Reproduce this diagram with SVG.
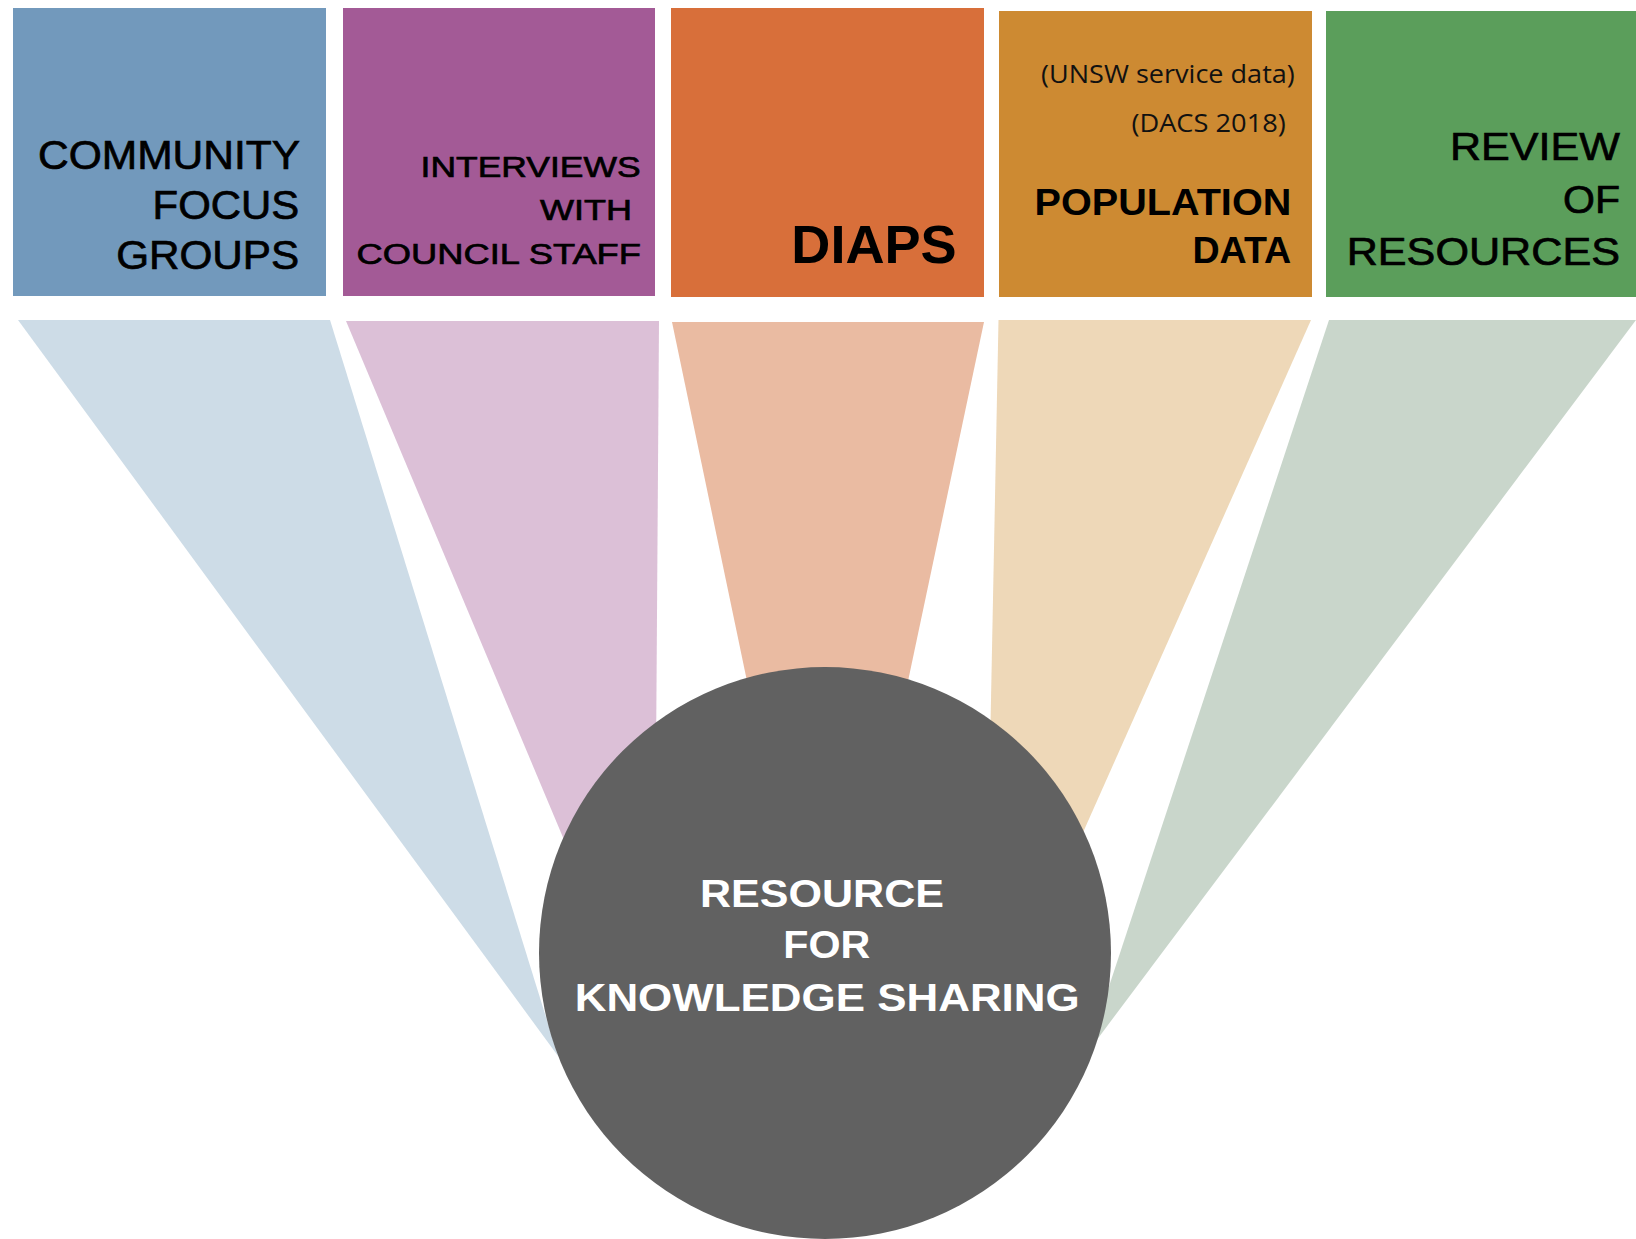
<svg xmlns="http://www.w3.org/2000/svg" width="1636" height="1239" viewBox="0 0 1636 1239">
<style>
.lbl{font-family:"Liberation Sans",Arial,sans-serif;fill:#000}
.reg{font-weight:normal;stroke:#000;stroke-width:0.7}
.bold{font-weight:bold}
.small{font-family:"Open Sans","Noto Sans",sans-serif;font-size:26px;fill:#111}
.ctr{font-family:"Liberation Sans",Arial,sans-serif;font-weight:bold;font-size:39px;fill:#fff}
</style>
<rect width="1636" height="1239" fill="#fff"/>
<g id="connectors">
  <polygon id="w1" points="18,320 330,320 558,1056" fill="#cddce7"/>
  <polygon id="w2" points="346,321 659,321 654,1054" fill="#dcc0d7"/>
  <polygon id="w3" points="672,322 984,322 827,1064" fill="#eabba2"/>
  <polygon id="w4" points="998.5,320 1311,320 984,1055" fill="#eed8b8"/>
  <polygon id="w5" points="1329,320 1636,320 1087,1053" fill="#c9d6cb"/>
</g>
<g id="n1">
  <rect x="13" y="8" width="313" height="288" fill="#7299bc"/>
  <text class="lbl reg" font-size="40" x="38" y="168.5" textLength="262" lengthAdjust="spacingAndGlyphs">COMMUNITY</text>
  <text class="lbl reg" font-size="40" x="152.6" y="218.5" textLength="146.6" lengthAdjust="spacingAndGlyphs">FOCUS</text>
  <text class="lbl reg" font-size="40" x="116.2" y="268.5" textLength="183" lengthAdjust="spacingAndGlyphs">GROUPS</text>
</g>
<g id="n2">
  <rect x="343" y="8" width="312" height="288" fill="#a35a96"/>
  <text class="lbl reg" font-size="30" x="420.6" y="176.5" textLength="220" lengthAdjust="spacingAndGlyphs">INTERVIEWS</text>
  <text class="lbl reg" font-size="30" x="540" y="220" textLength="92" lengthAdjust="spacingAndGlyphs">WITH</text>
  <text class="lbl reg" font-size="30" x="356.5" y="263.5" textLength="284.5" lengthAdjust="spacingAndGlyphs">COUNCIL STAFF</text>
</g>
<g id="n3">
  <rect x="671" y="8" width="313" height="289" fill="#d86f3a"/>
  <text class="lbl bold" font-size="53.5" x="791.3" y="263.3" textLength="165.4" lengthAdjust="spacingAndGlyphs">DIAPS</text>
</g>
<g id="n4">
  <rect x="999" y="11" width="313" height="286" fill="#cd8a32"/>
  <text class="small" x="1041" y="82.7" textLength="253.8" lengthAdjust="spacingAndGlyphs">(UNSW service data)</text>
  <text class="small" x="1131.4" y="131.7" textLength="154.4" lengthAdjust="spacingAndGlyphs">(DACS 2018)</text>
  <text class="lbl bold" font-size="36" x="1034.6" y="215" textLength="256.7" lengthAdjust="spacingAndGlyphs">POPULATION</text>
  <text class="lbl bold" font-size="36" x="1192.4" y="263.3" textLength="98.9" lengthAdjust="spacingAndGlyphs">DATA</text>
</g>
<g id="n5">
  <rect x="1326" y="11" width="310" height="286" fill="#5b9e5b"/>
  <text class="lbl reg" font-size="39.5" x="1450" y="160" textLength="170" lengthAdjust="spacingAndGlyphs">REVIEW</text>
  <text class="lbl reg" font-size="39.5" x="1563" y="213.3" textLength="57" lengthAdjust="spacingAndGlyphs">OF</text>
  <text class="lbl reg" font-size="39.5" x="1346.7" y="265" textLength="273.3" lengthAdjust="spacingAndGlyphs">RESOURCES</text>
</g>
<g id="center">
  <circle cx="825" cy="953" r="286" fill="#616161"/>
  <text class="ctr" x="700" y="907" textLength="244" lengthAdjust="spacingAndGlyphs">RESOURCE</text>
  <text class="ctr" x="783.3" y="958.4" textLength="87" lengthAdjust="spacingAndGlyphs">FOR</text>
  <text class="ctr" x="574.7" y="1011.2" textLength="505" lengthAdjust="spacingAndGlyphs">KNOWLEDGE SHARING</text>
</g>
</svg>
